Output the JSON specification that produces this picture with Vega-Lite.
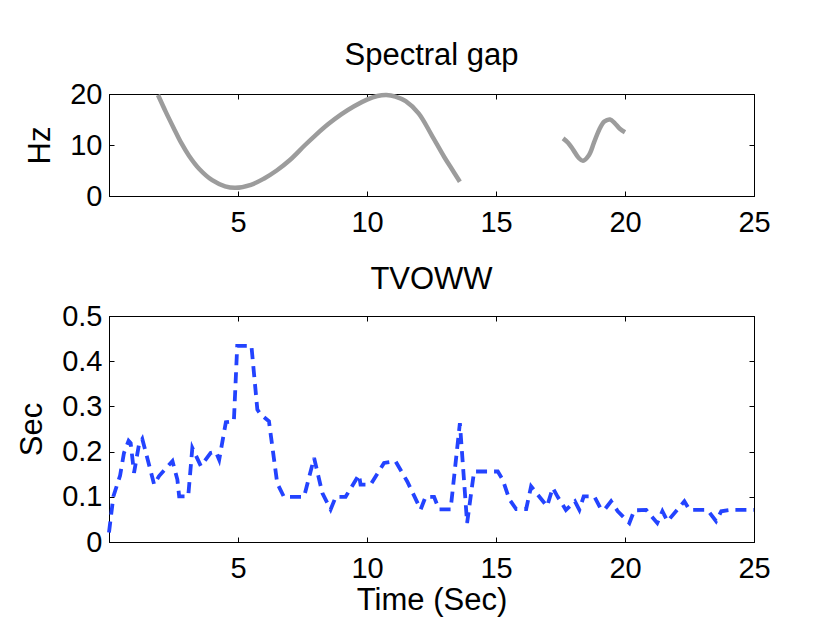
{
  "$schema": "https://vega.github.io/schema/vega-lite/v6.json",
  "background": "white",
  "padding": {"left": 16, "top": 39, "right": 5, "bottom": 5},
  "datasets": {
    "gap": [
      {"t": 1.9, "hz": 19.8, "seg": "a"},
      {"t": 2.2, "hz": 16.5, "seg": "a"},
      {"t": 2.5, "hz": 13.4, "seg": "a"},
      {"t": 2.8, "hz": 10.4, "seg": "a"},
      {"t": 3.1, "hz": 7.9, "seg": "a"},
      {"t": 3.5, "hz": 5.3, "seg": "a"},
      {"t": 4.0, "hz": 3.1, "seg": "a"},
      {"t": 4.5, "hz": 1.9, "seg": "a"},
      {"t": 4.9, "hz": 1.6, "seg": "a"},
      {"t": 5.5, "hz": 2.2, "seg": "a"},
      {"t": 6.0, "hz": 3.4, "seg": "a"},
      {"t": 6.5, "hz": 5.0, "seg": "a"},
      {"t": 7.0, "hz": 7.0, "seg": "a"},
      {"t": 7.6, "hz": 10.0, "seg": "a"},
      {"t": 8.0, "hz": 11.9, "seg": "a"},
      {"t": 8.5, "hz": 14.1, "seg": "a"},
      {"t": 9.0, "hz": 16.0, "seg": "a"},
      {"t": 9.5, "hz": 17.6, "seg": "a"},
      {"t": 10.0, "hz": 18.9, "seg": "a"},
      {"t": 10.4, "hz": 19.6, "seg": "a"},
      {"t": 10.75, "hz": 19.8, "seg": "a"},
      {"t": 11.1, "hz": 19.5, "seg": "a"},
      {"t": 11.5, "hz": 18.6, "seg": "a"},
      {"t": 12.0, "hz": 16.2, "seg": "a"},
      {"t": 12.5, "hz": 12.0, "seg": "a"},
      {"t": 13.0, "hz": 7.6, "seg": "a"},
      {"t": 13.3, "hz": 5.2, "seg": "a"},
      {"t": 13.6, "hz": 2.8, "seg": "a"},
      {"t": 17.6, "hz": 11.3, "seg": "b"},
      {"t": 17.8, "hz": 10.4, "seg": "b"},
      {"t": 18.0, "hz": 9.0, "seg": "b"},
      {"t": 18.2, "hz": 7.5, "seg": "b"},
      {"t": 18.37, "hz": 6.9, "seg": "b"},
      {"t": 18.6, "hz": 8.0, "seg": "b"},
      {"t": 18.8, "hz": 10.5, "seg": "b"},
      {"t": 19.0, "hz": 13.0, "seg": "b"},
      {"t": 19.2, "hz": 14.6, "seg": "b"},
      {"t": 19.42, "hz": 15.0, "seg": "b"},
      {"t": 19.6, "hz": 14.3, "seg": "b"},
      {"t": 19.8, "hz": 13.2, "seg": "b"},
      {"t": 20.0, "hz": 12.5, "seg": "b"}
    ],
    "tvoww": [
      {"t": 0.0, "sec": 0.021},
      {"t": 0.17, "sec": 0.101},
      {"t": 0.43, "sec": 0.147},
      {"t": 0.58, "sec": 0.197},
      {"t": 0.76, "sec": 0.224},
      {"t": 0.84, "sec": 0.219},
      {"t": 0.97, "sec": 0.153},
      {"t": 1.16, "sec": 0.215},
      {"t": 1.29, "sec": 0.228},
      {"t": 1.62, "sec": 0.156},
      {"t": 1.75, "sec": 0.127},
      {"t": 1.94, "sec": 0.146},
      {"t": 2.46, "sec": 0.179},
      {"t": 2.65, "sec": 0.138},
      {"t": 2.72, "sec": 0.101},
      {"t": 3.07, "sec": 0.101},
      {"t": 3.23, "sec": 0.208},
      {"t": 3.56, "sec": 0.168},
      {"t": 3.94, "sec": 0.197},
      {"t": 4.14, "sec": 0.2},
      {"t": 4.27, "sec": 0.182},
      {"t": 4.53, "sec": 0.265},
      {"t": 4.84, "sec": 0.267},
      {"t": 4.97, "sec": 0.434},
      {"t": 5.52, "sec": 0.434},
      {"t": 5.75, "sec": 0.293},
      {"t": 5.88, "sec": 0.282},
      {"t": 6.2, "sec": 0.267},
      {"t": 6.52, "sec": 0.13},
      {"t": 6.78, "sec": 0.1},
      {"t": 7.56, "sec": 0.1},
      {"t": 7.95, "sec": 0.186},
      {"t": 8.27, "sec": 0.108},
      {"t": 8.59, "sec": 0.072},
      {"t": 8.79, "sec": 0.1},
      {"t": 9.17, "sec": 0.1},
      {"t": 9.69, "sec": 0.149},
      {"t": 9.75, "sec": 0.127},
      {"t": 10.14, "sec": 0.127},
      {"t": 10.66, "sec": 0.175},
      {"t": 11.1, "sec": 0.179},
      {"t": 11.56, "sec": 0.134},
      {"t": 12.08, "sec": 0.072},
      {"t": 12.27, "sec": 0.1},
      {"t": 12.6, "sec": 0.1},
      {"t": 12.79, "sec": 0.072},
      {"t": 13.24, "sec": 0.072},
      {"t": 13.6, "sec": 0.263},
      {"t": 13.88, "sec": 0.042},
      {"t": 14.15, "sec": 0.156},
      {"t": 15.07, "sec": 0.156},
      {"t": 15.26, "sec": 0.138},
      {"t": 15.52, "sec": 0.094},
      {"t": 15.78, "sec": 0.073},
      {"t": 16.17, "sec": 0.073},
      {"t": 16.36, "sec": 0.123},
      {"t": 16.98, "sec": 0.079},
      {"t": 17.2, "sec": 0.12},
      {"t": 17.39, "sec": 0.1},
      {"t": 17.71, "sec": 0.071},
      {"t": 18.06, "sec": 0.09},
      {"t": 18.23, "sec": 0.071},
      {"t": 18.4, "sec": 0.101},
      {"t": 18.81, "sec": 0.101},
      {"t": 19.05, "sec": 0.075},
      {"t": 19.2, "sec": 0.071},
      {"t": 19.46, "sec": 0.09},
      {"t": 19.72, "sec": 0.068},
      {"t": 20.17, "sec": 0.042},
      {"t": 20.36, "sec": 0.07},
      {"t": 20.82, "sec": 0.071},
      {"t": 21.25, "sec": 0.042},
      {"t": 21.45, "sec": 0.068},
      {"t": 21.65, "sec": 0.046},
      {"t": 22.3, "sec": 0.09},
      {"t": 22.5, "sec": 0.071},
      {"t": 23.2, "sec": 0.071},
      {"t": 23.53, "sec": 0.046},
      {"t": 23.73, "sec": 0.068},
      {"t": 24.1, "sec": 0.071},
      {"t": 25.0, "sec": 0.071}
    ]
  },
  "config": {
    "font": "Liberation Sans",
    "view": {"stroke": "black", "strokeWidth": 1},
    "axis": {
      "grid": false,
      "domainColor": "black",
      "tickColor": "black",
      "labelColor": "black",
      "titleColor": "black",
      "labelFont": "Liberation Sans",
      "titleFont": "Liberation Sans",
      "labelFontSize": 29,
      "titleFontSize": 31,
      "titleFontWeight": "normal",
      "tickSize": -5,
      "labelFlush": false
    },
    "title": {"fontSize": 31, "fontWeight": "normal", "color": "black", "font": "Liberation Sans"}
  },
  "bounds": "flush",
  "spacing": 120,
  "vconcat": [
    {
      "width": 645,
      "height": 102,
      "title": {"text": "Spectral gap", "offset": 8},
      "data": {"name": "gap"},
      "layer": [
        {
          "mark": {"type": "line", "color": "#9c9c9c", "strokeWidth": 4.5, "interpolate": "catmull-rom"},
          "encoding": {
            "x": {"field": "t", "type": "quantitative", "scale": {"domain": [0, 25], "nice": false},
                  "axis": {"values": [5, 10, 15, 20, 25], "title": null, "labelPadding": 17}},
            "y": {"field": "hz", "type": "quantitative", "scale": {"domain": [0, 20], "nice": false},
                  "axis": {"values": [0, 10, 20], "title": "Hz", "labelPadding": 12, "titlePadding": 13}},
            "detail": {"field": "seg"}
          }
        },
        {
          "mark": {"type": "line", "opacity": 0},
          "encoding": {
            "x": {"field": "t", "type": "quantitative", "scale": {"domain": [0, 25], "nice": false},
                  "axis": {"orient": "top", "values": [5, 10, 15, 20, 25], "labels": false, "title": null}},
            "y": {"field": "hz", "type": "quantitative", "scale": {"domain": [0, 20], "nice": false},
                  "axis": {"orient": "right", "values": [0, 10, 20], "labels": false, "title": null}},
            "detail": {"field": "seg"}
          }
        }
      ],
      "resolve": {"axis": {"x": "independent", "y": "independent"}}
    },
    {
      "width": 645,
      "height": 226,
      "title": {"text": "TVOWW", "offset": 6},
      "data": {"name": "tvoww"},
      "layer": [
        {
          "mark": {"type": "line", "color": "#2343ff", "strokeWidth": 3.8, "strokeDash": [11, 7]},
          "encoding": {
            "x": {"field": "t", "type": "quantitative", "scale": {"domain": [0, 25], "nice": false},
                  "axis": {"values": [5, 10, 15, 20, 25], "title": "Time (Sec)", "labelPadding": 17, "titlePadding": 2}},
            "y": {"field": "sec", "type": "quantitative", "scale": {"domain": [0, 0.5], "nice": false},
                  "axis": {"values": [0, 0.1, 0.2, 0.3, 0.4, 0.5], "format": "~g", "title": "Sec", "labelPadding": 12, "titlePadding": 13}}
          }
        },
        {
          "mark": {"type": "line", "opacity": 0},
          "encoding": {
            "x": {"field": "t", "type": "quantitative", "scale": {"domain": [0, 25], "nice": false},
                  "axis": {"orient": "top", "values": [5, 10, 15, 20, 25], "labels": false, "title": null}},
            "y": {"field": "sec", "type": "quantitative", "scale": {"domain": [0, 0.5], "nice": false},
                  "axis": {"orient": "right", "values": [0, 0.1, 0.2, 0.3, 0.4, 0.5], "labels": false, "title": null}}
          }
        }
      ],
      "resolve": {"axis": {"x": "independent", "y": "independent"}}
    }
  ]
}
